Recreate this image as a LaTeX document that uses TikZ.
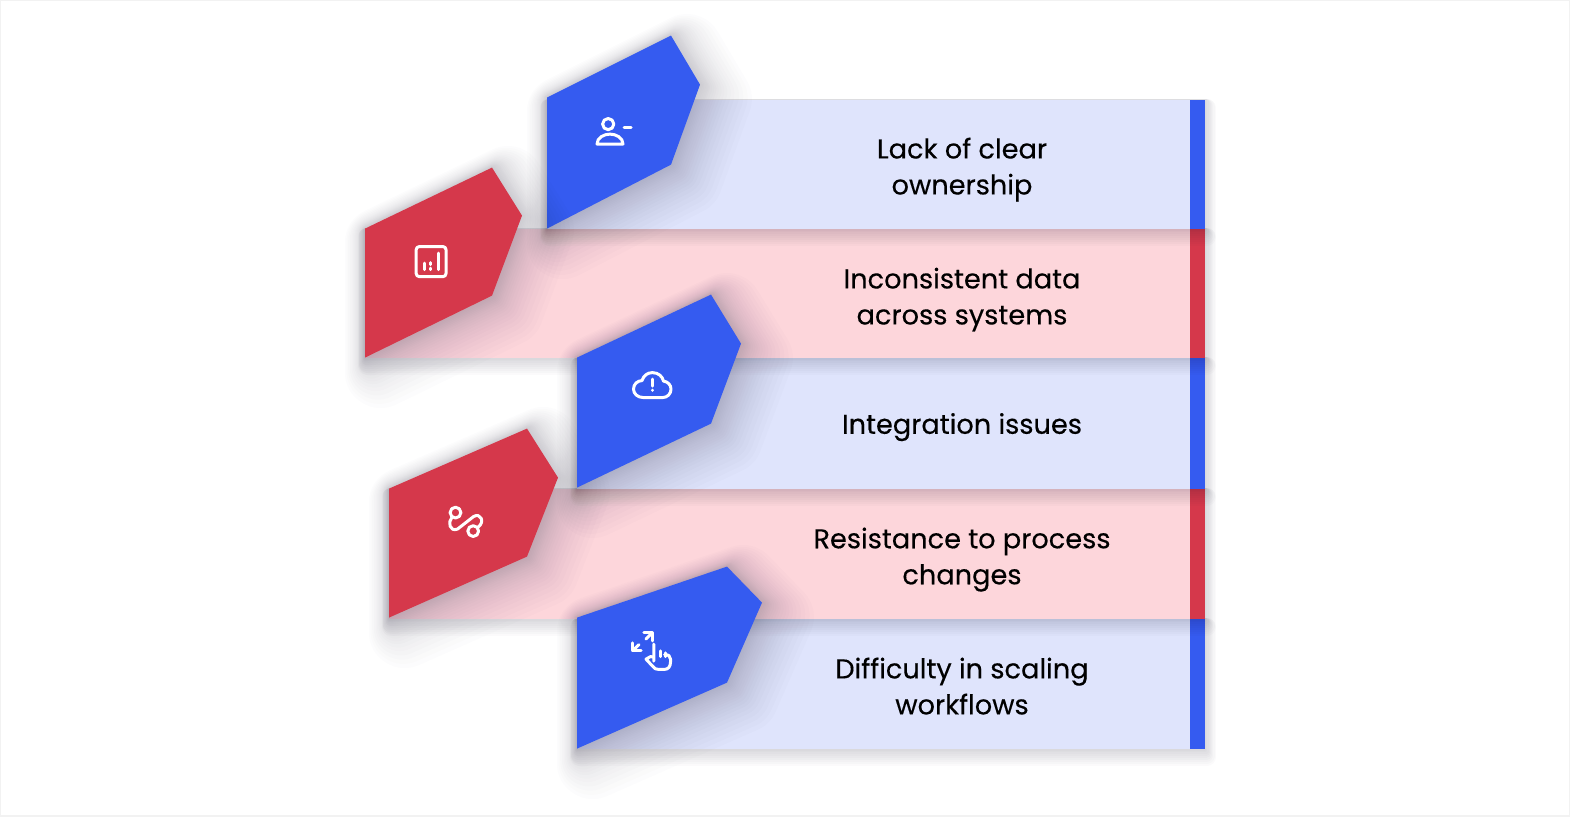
\documentclass[tikz,border=0pt]{standalone}
\usepackage{fontspec}
\setmainfont{Poppins}
\newfontfamily\lblfont[FakeBold=0.3]{Poppins}
\usetikzlibrary{positioning,calc}
\definecolor{zblue}{RGB}{53,91,240}
\definecolor{zred}{RGB}{213,56,75}
\definecolor{zbluelt}{RGB}{223,228,252}
\definecolor{zredlt}{RGB}{253,214,219}
\definecolor{zshade}{RGB}{30,25,50}
\tikzset{barlayer/.style={preaction={draw=zshade, fill=none, draw opacity=0.02, line width=#1pt, line join=round,
   transform canvas={shift={(0.1*#1pt,-0.45*#1pt)}}}}}
\tikzset{taglayer/.style={preaction={draw=zshade, fill=none, draw opacity=0.013, line width=#1pt, line join=round,
   transform canvas={shift={(0.22*#1pt,-0.2*#1pt)}}}}}
\tikzstyle{barshade}=[barlayer=18, barlayer=16, barlayer=14, barlayer=12, barlayer=10, barlayer=8, barlayer=6, barlayer=4, barlayer=2]
\tikzstyle{tagshade}=[taglayer=72, taglayer=66, taglayer=60, taglayer=54, taglayer=48, taglayer=43, taglayer=38, taglayer=34, taglayer=30, taglayer=26, taglayer=23, taglayer=20, taglayer=17, taglayer=14, taglayer=12, taglayer=10, taglayer=8, taglayer=6, taglayer=4, taglayer=2]
\tikzstyle{bluebar}=[rectangle, fill=zbluelt, barshade, inner sep=0pt, outer sep=0pt, minimum height=130, anchor=south east]
\tikzstyle{redbar}=[rectangle, fill=zredlt, barshade, inner sep=0pt, outer sep=0pt, minimum height=130, anchor=south east]
\tikzstyle{bluestrip}=[rectangle, fill=zblue, inner sep=0pt, outer sep=0pt, minimum width=15, minimum height=130, anchor=east]
\tikzstyle{redstrip}=[rectangle, fill=zred, inner sep=0pt, outer sep=0pt, minimum width=15, minimum height=130, anchor=east]
\tikzstyle{bluetag}=[fill=zblue, tagshade]
\tikzstyle{redtag}=[fill=zred, tagshade]
\tikzstyle{lbl}=[align=center, inner sep=0pt, text=black, font=\lblfont\fontsize{27.2}{36}\selectfont]
\tikzstyle{ico}=[draw=white, line width=3pt, line cap=round, line join=round]
\begin{document}
\begin{tikzpicture}[x=1pt, y=-1pt]

\useasboundingbox (-1,-0.6) rectangle (1569,815.4);
\draw[black!5, line width=2pt] (-1,-0.6) rectangle (1569,815.4);

% bars, from the lowest up
    \node (scaling) [bluebar, minimum width=628] at (1204,748) {};
    \node (scalingend) [bluestrip] at (scaling.east) {};
    \node (process) [redbar, minimum width=816] at (scaling.north east) {};
    \node (processend) [redstrip] at (process.east) {};
    \node (integr) [bluebar, minimum width=628, minimum height=131] at (process.north east) {};
    \node (integrend) [bluestrip, minimum height=131] at (integr.east) {};
    \node (data) [redbar, minimum width=840, minimum height=129] at (integr.north east) {};
    \node (dataend) [redstrip, minimum height=129] at (data.east) {};
    \node (owner) [bluebar, minimum width=658, minimum height=129] at (data.north east) {};
    \node (ownerend) [bluestrip, minimum height=129] at (owner.east) {};

% tags
\fill[bluetag] (546,97) -- (670,35) -- (699,84) -- (670,164) -- (546,228) -- cycle;
\fill[redtag] (364,228) -- (491,167) -- (521,215) -- (491,295) -- (364,357) -- cycle;
\fill[redtag] (388,488) -- (526,428) -- (557,477) -- (526,556) -- (388,617) -- cycle;
\fill[bluetag] (576,357) -- (710,294) -- (740,343) -- (710,423) -- (576,487) -- cycle;
\fill[bluetag] (576,617) -- (726,566) -- (761,602) -- (726,682) -- (576,748) -- cycle;

% person icon
\draw[ico] (607.2,123.5) circle (5.6);
\draw[ico] (596,143.5) -- (622,143.5) .. controls (622,137) and (615,133.5) .. (609,133.5) .. controls (603,133.5) and (596,137) .. (596,143.5) -- cycle;
\draw[ico] (623,127) -- (630,127);

% chart icon
\draw[ico, rounded corners=3pt] (415.2,246) rectangle (445,276);
\draw[ico] (423,262.5) -- (423,269);
\draw[ico] (429.8,262) -- (429.8,264);
\draw[ico] (429.8,267.5) -- (429.8,269);
\draw[ico] (437,252.5) -- (437,269);

% cloud icon
\draw[ico] (642.5,397) .. controls (636.5,397) and (632.5,393) .. (632.5,388.5) .. controls (632.5,383.5) and (636.5,380) .. (641,380) .. controls (642.5,375) and (646.5,372) .. (651.5,372) .. controls (657.5,372) and (661.5,376) .. (662.5,380.5) .. controls (667,381) and (670,384.5) .. (670,388.5) .. controls (670,393) and (666.5,397) .. (661.5,397) -- cycle;
\draw[ico] (651.2,378.5) -- (651.2,385.5);
\draw[ico] (651.2,389.6) -- (651.2,389.8);

% route icon
\draw[ico] (454.5,512) circle (5.4);
\draw[ico] (472.2,530.5) circle (5.4);
\draw[ico] (451,516.5) .. controls (446.5,521.5) and (448.5,531.5) .. (456.5,528.5) -- (472.5,516) .. controls (479.5,511.5) and (484.5,521.5) .. (477,526.5);

% scaling icon
\draw[ico] (642.8,632.2) -- (651.2,632.2) -- (651.2,640.2);
\draw[ico] (631.8,642.2) -- (631.8,650.2) -- (640.2,650.2);
\draw[ico] (651.2,632.2) -- (645,638.5);
\draw[ico] (631.8,650.2) -- (638,644);
\draw[ico] (652.8,660.5) -- (652.8,643.5) (652.8,656.5) -- (649.5,656) -- (645,658.5) -- (651.5,665.5) .. controls (653.5,668) and (654.5,668.8) .. (657.5,668.8) -- (663.5,668.8) .. controls (667.5,668.8) and (669.5,665.5) .. (669.5,661.5) -- (669.5,658.5) .. controls (669.5,655.5) and (667.5,654) .. (663.5,654);
\draw[ico] (659.2,650.2) -- (659.2,656);
\draw[ico] (664,652.2) -- (664,656);

% labels
\node (ownerlbl) [lbl] at ($(owner.east)+(-243,5.5)$) {Lack of clear\\ownership};
\node (datalbl) [lbl] at ($(data.east)+(-243,6.5)$) {Inconsistent data\\across systems};
\node (integrlbl) [lbl] at ($(integr.east)+(-243,4)$) {Integration issues};
\node (processlbl) [lbl] at ($(process.east)+(-243,6)$) {Resistance to process\\changes};
\node (scalinglbl) [lbl] at ($(scaling.east)+(-243,2.5)$) {Difficulty in scaling\\workflows};

\end{tikzpicture}
\end{document}
